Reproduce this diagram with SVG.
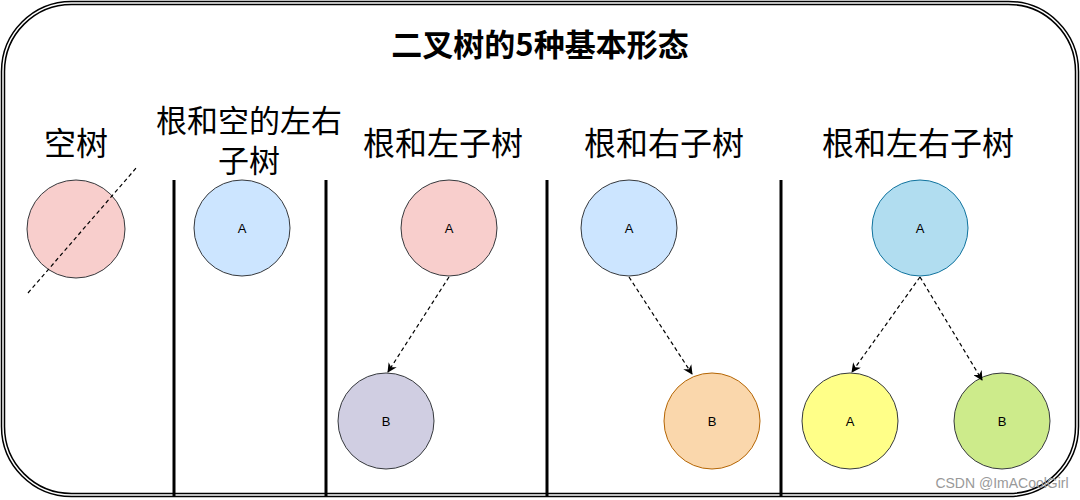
<svg xmlns="http://www.w3.org/2000/svg" width="1080" height="500" viewBox="0 0 1080 500">
<defs>
<style>
text{font-family:"Noto Sans CJK SC","Liberation Sans",sans-serif;text-anchor:middle;fill:#000}
.lbl{font-size:32px}
.n{font-size:13px;font-family:"Liberation Sans",sans-serif}
.sep{stroke:#000;stroke-width:3}
.dash{stroke:#000;stroke-width:1.2;stroke-dasharray:4 3;fill:none}
</style>
<marker id="ah" viewBox="0 0 10 10" refX="9" refY="5" markerWidth="8" markerHeight="8" orient="auto"><path d="M0,0 L10,5 L0,10 L3,5 Z" fill="#000"/></marker>
</defs>
<rect x="1.5" y="1.5" width="1077" height="495" rx="70" fill="#fff" stroke="#000" stroke-width="1.5"/>
<rect x="4.5" y="4.5" width="1071" height="489" rx="67" fill="none" stroke="#000" stroke-width="1.5"/>
<text x="540" y="56" style="font-size:31px;font-weight:bold">二叉树的5种基本形态</text>
<text class="lbl" x="76" y="155">空树</text>
<text class="lbl" x="249" y="132" style="font-size:31px">根和空的左右</text>
<text class="lbl" x="249" y="172" style="font-size:31px">子树</text>
<text class="lbl" x="443" y="155">根和左子树</text>
<text class="lbl" x="664" y="155">根和右子树</text>
<text class="lbl" x="918" y="155">根和左右子树</text>
<g id="separators">
<line class="sep" x1="174" y1="180" x2="174" y2="497"/>
<line class="sep" x1="326" y1="180" x2="326" y2="497"/>
<line class="sep" x1="547" y1="180" x2="547" y2="497"/>
<line class="sep" x1="781" y1="180" x2="781" y2="497"/>
</g>
<g id="empty"><circle cx="76" cy="229" r="49" fill="#f8cecc" stroke="#36393d"/></g>
<g id="n2a"><circle cx="242" cy="228" r="48" fill="#cce5ff" stroke="#36393d"/><text class="n" x="242" y="233">A</text></g>
<g id="n3a"><circle cx="449" cy="228" r="48" fill="#f8cecc" stroke="#36393d"/><text class="n" x="449" y="233">A</text></g>
<g id="n3b"><circle cx="386" cy="421" r="48" fill="#d0cee2" stroke="#36393d"/><text class="n" x="386" y="426">B</text></g>
<g id="n4a"><circle cx="629" cy="228" r="48" fill="#cce5ff" stroke="#36393d"/><text class="n" x="629" y="233">A</text></g>
<g id="n4b"><circle cx="712" cy="421" r="48" fill="#fad7ac" stroke="#b46504"/><text class="n" x="712" y="426">B</text></g>
<g id="n5a"><circle cx="920" cy="228" r="48" fill="#b1ddf0" stroke="#10739e"/><text class="n" x="920" y="233">A</text></g>
<g id="n5l"><circle cx="850" cy="421" r="48" fill="#ffff88" stroke="#36393d"/><text class="n" x="850" y="426">A</text></g>
<g id="n5r"><circle cx="1002" cy="421" r="48" fill="#cdeb8b" stroke="#36393d"/><text class="n" x="1002" y="426">B</text></g>
<g id="connectors">
<line class="dash" x1="28" y1="293" x2="137" y2="167"/>
<line class="dash" x1="449" y1="277" x2="388" y2="372" marker-end="url(#ah)"/>
<line class="dash" x1="629" y1="277" x2="692" y2="374" marker-end="url(#ah)"/>
<line class="dash" x1="920" y1="277" x2="852" y2="372" marker-end="url(#ah)"/>
<line class="dash" x1="920" y1="277" x2="982" y2="380" marker-end="url(#ah)"/>
</g>
<text x="1002" y="488" style="font-size:14px;font-family:'Liberation Sans',sans-serif;fill:#999">CSDN @ImACoolGirl</text>
</svg>
